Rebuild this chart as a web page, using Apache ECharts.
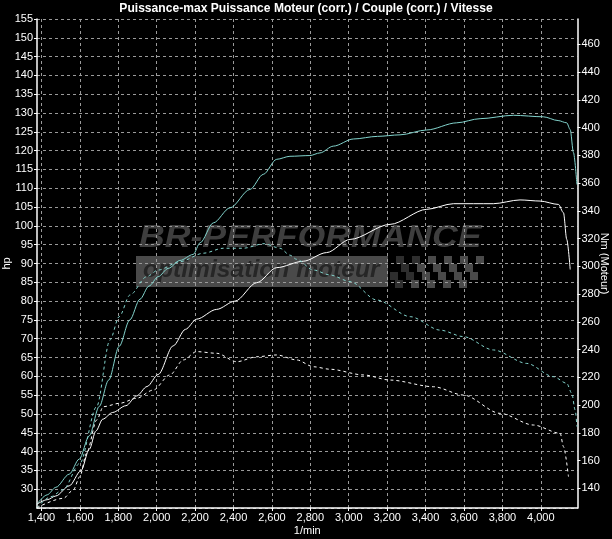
<!DOCTYPE html>
<html>
<head>
<meta charset="utf-8">
<script src="https://cdn.jsdelivr.net/npm/echarts@6/dist/echarts.min.js"></script>
<style>
  html, body { margin: 0; padding: 0; background: #000; }
  #main { width: 612px; height: 539px; }
</style>
</head>
<body>
<div id="main"></div>
<script>
// tick labels
var rpmTicks = [1400, 1600, 1800, 2000, 2200, 2400, 2600, 2800, 3000, 3200, 3400, 3600, 3800, 4000];
var nmTicks = [140, 160, 180, 200, 220, 240, 260, 280, 300, 320, 340, 360, 380, 400, 420, 440, 460];

// puissance (hp) - courbe cyan
var cyanPowerRpm = [1376, 1430, 1475, 1545, 1597, 1649, 1701, 1750, 1805, 1860, 1913, 1960, 2008, 2060, 2121, 2190, 2226, 2295, 2382, 2486, 2555, 2625, 2694, 2798, 2850, 2920, 3024, 3150, 3267, 3406, 3562, 3684, 3857, 4013, 4090, 4135, 4153, 4170, 4188];
var cyanPowerHp = [26, 28.5, 30.5, 34, 38, 44.2, 52, 59, 68, 75, 80.5, 84, 86.5, 88.7, 90.8, 92.4, 95.5, 100.8, 104.8, 109.7, 113.7, 117.7, 118.5, 118.7, 119.4, 121.2, 123.1, 123.8, 124.2, 125.5, 127.4, 128.5, 129.4, 129, 128, 127.4, 125.6, 119.5, 111];

// puissance (hp) - courbe blanche
var whitePowerRpm = [1376, 1430, 1475, 1545, 1606, 1649, 1684, 1719, 1771, 1840, 1896, 1950, 2008, 2086, 2150, 2208, 2312, 2408, 2521, 2625, 2763, 2885, 3007, 3215, 3406, 3545, 3753, 3892, 3996, 4092, 4118, 4135, 4153];
var whitePowerHp = [26, 27.2, 28.2, 30.9, 34.9, 40.6, 45.5, 48.6, 50.4, 52.2, 54.8, 57.3, 60.5, 68.1, 72.5, 75.2, 77.8, 80, 84.9, 88.9, 90.6, 92.9, 96.4, 100.4, 104.4, 105.9, 105.9, 106.9, 106.6, 105.7, 103.5, 96.4, 88.4];

// couple (Nm) - courbe cyan
var cyanTorqueRpm = [1376, 1450, 1513, 1600, 1687, 1757, 1805, 1861, 1948, 2008, 2121, 2243, 2347, 2451, 2560, 2642, 2694, 2729, 2816, 2903, 3007, 3146, 3320, 3476, 3597, 3753, 3927, 4066, 4135, 4161, 4179, 4188];
var cyanTorqueNm = [126, 134, 139, 158, 198.8, 246.9, 263.7, 279.3, 292.5, 297.3, 303.3, 309.4, 313, 313, 316.3, 313, 308, 305, 297.3, 293.7, 289, 275.7, 263.7, 254, 249.3, 239.7, 230, 220.4, 215.7, 208.5, 196.4, 184.4];

// couple (Nm) - courbe blanche
var whiteTorqueRpm = [1376, 1514, 1566, 1600, 1635, 1688, 1722, 1809, 1896, 1982, 2069, 2139, 2208, 2312, 2417, 2521, 2625, 2729, 2816, 2903, 3076, 3215, 3441, 3597, 3788, 3961, 4101, 4118, 4144];
var whiteTorqueNm = [126, 132.8, 138.8, 148.4, 165.2, 189.2, 198.8, 201.3, 204.9, 210.8, 221.7, 232.5, 238.5, 237.3, 231.2, 234.8, 236.1, 232.5, 227.6, 225.8, 221.7, 218, 213.2, 207.2, 194, 185.6, 179.6, 170, 148.4];

function pairs(xs, ys) {
  return xs.map(function (x, i) { return [x, ys[i]]; });
}

var font = "'Liberation Sans', Arial, sans-serif";
var cyan = "#82d3cc";
var gridColor = "#9a9a9a";

var deco = [
  // titre (texte compresse comme l'original)
  {
    type: "text", x: 306, y: 8, scaleX: 0.93,
    style: {
      text: "Puissance-max Puissance Moteur (corr.) / Couple (corr.) / Vitesse",
      fill: "#fff", font: "bold 13px " + font, align: "center", verticalAlign: "middle"
    }
  },
  // logo en filigrane
  { type: "rect", x: 136, y: 256, shape: { width: 252, height: 31 }, style: { fill: "#4a4a4a" }, z: -5 },
  { type: "text", x: 139, y: 238, scaleX: 1.15, style: { text: "BR-PERFORMANCE", fill: "#3e3e3e", font: "italic bold 31px " + font, verticalAlign: "middle" }, z: -5 },
  { type: "text", x: 143, y: 271, scaleX: 1.07, style: { text: "optimisation moteur", fill: "#262626", font: "italic bold 23px " + font, verticalAlign: "middle" }, z: -4 }
];
// drapeau a damier
for (var r = 0; r < 4; r++) {
  for (var c = 0; c < 11; c++) {
    if ((r + c) % 2 === 0) {
      deco.push({
        type: "rect",
        x: 396 + c * 8 - r * 3, y: 256 + r * 8,
        shape: { width: 8, height: 8 },
        style: { fill: c < 3 ? "#2e2e2e" : "#4a4a4a" },
        z: -5
      });
    }
  }
}

var chart = echarts.init(document.getElementById("main"));
var option = {
  backgroundColor: "#000",
  animation: false,
  graphic: deco,
  grid: { left: 37, right: 34.5, top: 19, bottom: 31, containLabel: false, outerBoundsMode: "none" },
  xAxis: {
    type: "value",
    min: 1377,
    max: 4191,
    name: "1/min",
    nameLocation: "middle",
    nameGap: 17,
    nameMoveOverlap: false,
    nameTextStyle: { color: "#fff", fontSize: 11, fontFamily: font },
    axisLine: { lineStyle: { color: "#fff", width: 1.5 } },
    axisTick: { customValues: rpmTicks, length: 3, lineStyle: { color: "#fff" } },
    axisLabel: {
      customValues: rpmTicks,
      color: "#fff",
      fontSize: 11,
      fontFamily: font,
      margin: 4,
      formatter: function (v) { return v.toLocaleString("en-US"); }
    },
    splitLine: { show: true, lineStyle: { color: gridColor, type: [3, 3], width: 1 } }
  },
  yAxis: [
    {
      type: "value",
      min: 25,
      max: 155,
      interval: 5,
      name: "hp",
      nameLocation: "middle",
      nameRotate: 90,
      nameGap: 25,
      nameMoveOverlap: false,
      nameTextStyle: { color: "#fff", fontSize: 11, fontFamily: font },
      axisLine: { show: true, lineStyle: { color: "#fff", width: 1.5 } },
      axisTick: { show: true, length: 3, lineStyle: { color: "#fff" } },
      axisLabel: { color: "#fff", fontSize: 11, fontFamily: font, margin: 4, showMinLabel: false },
      splitLine: { show: true, lineStyle: { color: gridColor, type: [3, 3], width: 1 } }
    },
    {
      type: "value",
      min: 125.8,
      max: 478.2,
      position: "right",
      name: "Nm (Moteur)",
      nameLocation: "middle",
      nameRotate: -90,
      nameGap: 21,
      nameMoveOverlap: false,
      nameTextStyle: { color: "#fff", fontSize: 11, fontFamily: font },
      axisLine: { show: true, lineStyle: { color: "#fff", width: 1.5 } },
      axisTick: { show: true, customValues: nmTicks, length: 3, lineStyle: { color: "#fff" } },
      axisLabel: { customValues: nmTicks, color: "#fff", fontSize: 11, fontFamily: font, margin: 4 },
      splitLine: { show: false }
    }
  ],
  series: [
    {
      name: "Puissance", type: "line", yAxisIndex: 0, showSymbol: false,
      smooth: 0.3, smoothMonotone: "x",
      lineStyle: { color: cyan, width: 1 },
      data: pairs(cyanPowerRpm, cyanPowerHp)
    },
    {
      name: "Puissance 2", type: "line", yAxisIndex: 0, showSymbol: false,
      smooth: 0.3, smoothMonotone: "x",
      lineStyle: { color: "#fff", width: 1 },
      data: pairs(whitePowerRpm, whitePowerHp)
    },
    {
      name: "Couple", type: "line", yAxisIndex: 1, showSymbol: false,
      smooth: 0.3, smoothMonotone: "x",
      lineStyle: { color: cyan, width: 1, type: [3, 3] },
      data: pairs(cyanTorqueRpm, cyanTorqueNm)
    },
    {
      name: "Couple 2", type: "line", yAxisIndex: 1, showSymbol: false,
      smooth: 0.3, smoothMonotone: "x",
      lineStyle: { color: "#fff", width: 1, type: [3, 3] },
      data: pairs(whiteTorqueRpm, whiteTorqueNm)
    }
  ]
};
chart.setOption(option);
</script>
</body>
</html>
